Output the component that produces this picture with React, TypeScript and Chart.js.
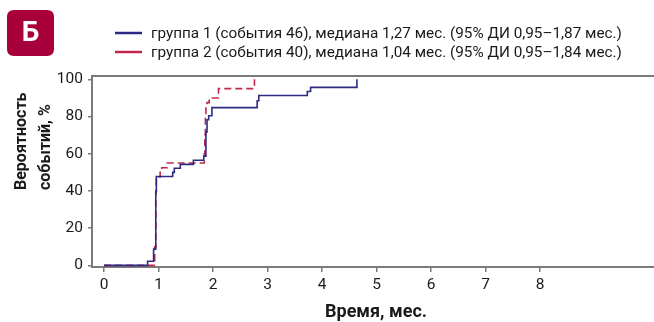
import React, { useEffect, useRef } from "react";
import { Chart, registerables } from "chart.js";

Chart.register(...registerables);

const group1Times = [0, 0.8, 0.91, 0.95, 0.96, 1.26, 1.29, 1.4, 1.64, 1.83, 1.87, 1.89, 1.92, 1.98, 2.81, 2.84, 3.73, 3.79, 4.64];
const group1Values = [0, 2.2, 8.7, 39.5, 47.8, 50, 52.2, 54.3, 56.5, 58.7, 71.7, 78.3, 80.4, 84.8, 88.5, 91.3, 93.5, 95.7, 100];

const group2Times = [0, 0.92, 0.93, 0.95, 0.96, 1.03, 1.06, 1.16, 1.84, 1.85, 1.86, 1.87, 1.89, 1.93, 2.1, 2.76];
const group2Values = [0, 2.5, 10, 40, 47.5, 50, 52.5, 55, 60, 70, 80, 85, 87.5, 90, 95, 100];

const xTickValues = [0, 1, 2, 3, 4, 5, 6, 7, 8];
const yTickValues = [0, 20, 40, 60, 80, 100];

const legendLabels = [
  "группа 1 (события 46), медиана 1,27 мес. (95% ДИ 0,95–1,87 мес.)",
  "группа 2 (события 40), медиана 1,04 мес. (95% ДИ 0,95–1,84 мес.)",
];
const badgeText = "Б";
const yTitleLines = ["Вероятность", "событий, %"];
const xTitle = "Время, мес.";

const BLUE = "#2c2a82";
const RED = "#c0284c";
const AXIS = "#7a7a7a";
const TEXT = "#1a1a1a";
const FONT = "Roboto, 'Noto Sans', sans-serif";

const decorPlugin = {
  id: "decor",
  afterDraw(chart: any) {
    const ctx = chart.ctx as CanvasRenderingContext2D;
    const area = chart.chartArea;
    ctx.save();
    // top border line
    ctx.strokeStyle = AXIS;
    ctx.lineWidth = 2;
    ctx.beginPath();
    ctx.moveTo(area.left - 1, area.top);
    ctx.lineTo(area.right, area.top);
    ctx.stroke();

    // badge
    const bx = 7, by = 10, bw = 47, bh = 46, r = 7;
    ctx.fillStyle = "#a8003a";
    ctx.beginPath();
    ctx.moveTo(bx + r, by);
    ctx.lineTo(bx + bw - r, by);
    ctx.quadraticCurveTo(bx + bw, by, bx + bw, by + r);
    ctx.lineTo(bx + bw, by + bh - r);
    ctx.quadraticCurveTo(bx + bw, by + bh, bx + bw - r, by + bh);
    ctx.lineTo(bx + r, by + bh);
    ctx.quadraticCurveTo(bx, by + bh, bx, by + bh - r);
    ctx.lineTo(bx, by + r);
    ctx.quadraticCurveTo(bx, by, bx + r, by);
    ctx.fill();
    ctx.fillStyle = "#ffffff";
    ctx.font = `bold 28px ${FONT}`;
    ctx.textAlign = "center";
    ctx.textBaseline = "middle";
    ctx.fillText(badgeText, bx + bw / 2, by + bh / 2 + 1);

    // legend
    const colors = [BLUE, RED];
    const rows = [33, 52];
    ctx.font = `15.3px ${FONT}`;
    ctx.textAlign = "left";
    ctx.textBaseline = "middle";
    legendLabels.forEach((label, i) => {
      ctx.strokeStyle = colors[i];
      ctx.lineWidth = 2.5;
      ctx.beginPath();
      ctx.moveTo(115, rows[i]);
      ctx.lineTo(142, rows[i]);
      ctx.stroke();
      ctx.fillStyle = TEXT;
      ctx.fillText(label, 151, rows[i] + 1);
    });

    // y title
    ctx.font = `bold 16px ${FONT}`;
    ctx.fillStyle = TEXT;
    ctx.textAlign = "left";
    ctx.textBaseline = "middle";
    const ycoords = [22, 46];
    yTitleLines.forEach((line, i) => {
      ctx.save();
      ctx.translate(ycoords[i], 190);
      ctx.rotate(-Math.PI / 2);
      ctx.fillText(line, 0, 0);
      ctx.restore();
    });

    // x title
    ctx.font = `bold 18px ${FONT}`;
    ctx.textAlign = "center";
    ctx.fillText(xTitle, (area.left + area.right) / 2 + 3, 312);
    ctx.restore();
  },
};

export default function App() {
  const ref = useRef<HTMLCanvasElement | null>(null);
  useEffect(() => {
    if (!ref.current) return;
    const chart = new Chart(ref.current, {
      type: "line",
      data: {
        datasets: [
          {
            label: legendLabels[0],
            data: group1Times.map((t, i) => ({ x: t, y: group1Values[i] })),
            borderColor: BLUE,
            borderWidth: 1.6,
            stepped: "before",
            pointRadius: 0,
            fill: false,
          },
          {
            label: legendLabels[1],
            data: group2Times.map((t, i) => ({ x: t, y: group2Values[i] })),
            borderColor: RED,
            borderWidth: 1.6,
            borderDash: [7, 4],
            stepped: "before",
            pointRadius: 0,
            fill: false,
          },
        ],
      },
      options: {
        responsive: false,
        animation: false,
        devicePixelRatio: 1,
        layout: { padding: { left: 0, right: 0, top: 76, bottom: 0 } },
        plugins: { legend: { display: false }, tooltip: { enabled: false } },
        scales: {
          x: {
            type: "linear",
            min: -0.22,
            max: 10.09,
            afterBuildTicks: (scale: any) => {
              scale.ticks = xTickValues.map((v) => ({ value: v }));
            },
            afterFit: (scale: any) => {
              scale.height = 55;
            },
            grid: {
              drawOnChartArea: false,
              drawTicks: true,
              tickLength: 5,
              color: AXIS,
              lineWidth: 1.5,
            },
            border: { color: AXIS, width: 2 },
            ticks: {
              color: TEXT,
              font: { family: FONT, size: 15.5 },
              padding: 4,
              maxRotation: 0,
              autoSkip: false,
            },
          },
          y: {
            type: "linear",
            min: -0.9,
            max: 101.8,
            afterBuildTicks: (scale: any) => {
              scale.ticks = yTickValues.map((v) => ({ value: v }));
            },
            afterFit: (scale: any) => {
              scale.width = 92;
            },
            grid: {
              drawOnChartArea: false,
              drawTicks: true,
              tickLength: 4,
              color: AXIS,
              lineWidth: 1.5,
            },
            border: { color: AXIS, width: 2 },
            ticks: {
              color: TEXT,
              font: { family: FONT, size: 15.5 },
              padding: 5,
              autoSkip: false,
            },
          },
        },
      },
      plugins: [decorPlugin],
    } as any);
    return () => chart.destroy();
  }, []);
  return (
    <div style={{ position: "absolute", left: 0, top: 0, width: 654, height: 322, background: "#fff" }}>
      <canvas ref={ref} width={654} height={322} />
    </div>
  );
}
